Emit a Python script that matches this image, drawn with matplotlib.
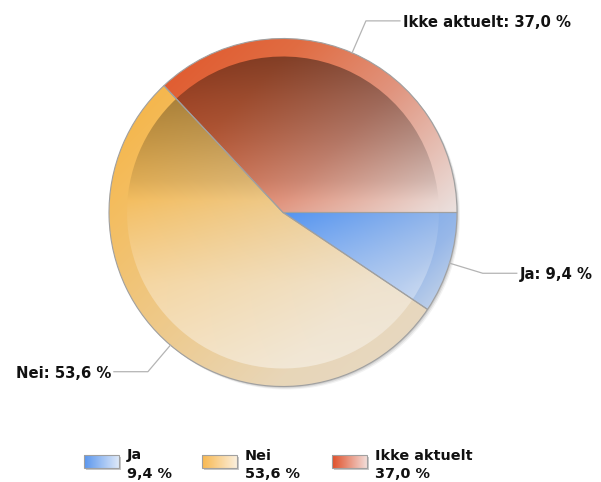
import matplotlib.pyplot as plt
import numpy as np
from matplotlib.patches import Circle, Rectangle
from matplotlib.colors import to_rgb

labels = ['Ja', 'Nei', 'Ikke aktuelt']
values = [9.4, 53.6, 37.0]

# colour ramps for each slice (position along the slice, colour)
rim_stops = [
    [(0.0, '#4a8ef0'), (0.7, '#98b8e8'), (1.0, '#d0dbea')],
    [(0.0, '#f6b240'), (0.2, '#f4bd5e'), (0.75, '#e8d6b8'), (1.0, '#e6d9c6')],
    [(0.0, '#e0562a'), (0.3, '#e06c42'), (0.6, '#e0947e'), (1.0, '#ebe2e0')],
]
swatch_colors = [('#5a96ee', '#dde8f8'), ('#f8b850', '#fbefdc'), ('#e0502a', '#f2dcd8')]


def pct(v):
    return f"{v:.1f}".replace('.', ',') + " %"


W, H = 601, 482
cx, cy = 283, 212.5      # pie centre, pixel coords (y down)
R, R_in = 174, 156


def sy(y):
    return H - y


fig = plt.figure(figsize=(W / 100, H / 100), dpi=100)
ax = fig.add_axes([0, 0, 1, 1])

# soft drop shadow
for off, a in [(1, 0.10), (2, 0.08), (3, 0.05)]:
    ax.add_patch(Circle((cx + off, sy(cy + off)), R, facecolor='black',
                        edgecolor='none', alpha=a, zorder=-2))

wedges, _ = ax.pie(values, radius=R, center=(cx, sy(cy)), startangle=0,
                   counterclock=False,
                   wedgeprops=dict(facecolor='none', edgecolor='#a0a0a0',
                                   linewidth=0.8))
inner, _ = ax.pie(values, radius=R_in, center=(cx, sy(cy)), startangle=0,
                  counterclock=False,
                  wedgeprops=dict(facecolor='none', edgecolor='none'))

xs = np.arange(cx - R, cx + R, 1.0) + 0.5
ys = np.arange(cy - R, cy + R, 1.0) + 0.5
X, Y = np.meshgrid(xs, ys)
ext = (cx - R, cx + R, sy(cy + R), sy(cy - R))

ang = np.deg2rad(45)
dx, dy = np.cos(ang), np.sin(ang)


def ramp(t, stops):
    pos = [p for p, _ in stops]
    cols = np.array([to_rgb(c) for _, c in stops])
    return np.stack([np.interp(t, pos, cols[:, k]) for k in range(3)], axis=-1)


def wedge_box(th1, th2):
    angs = [th1, th2] + [a for a in range(-360, 721, 90) if th1 < a < th2]
    px = [cx] + [cx + R * np.cos(np.deg2rad(a)) for a in angs]
    py = [cy] + [cy - R * np.sin(np.deg2rad(a)) for a in angs]
    return min(px), max(px), min(py), max(py)


# glass shading on the inner disc: darker at the top, lighter at the bottom
s = (Y - (cy - R_in)) / (2 * R_in)
shade = np.interp(s, [0, .125, .27, .4, .5, .73, 1],
                  [-.42, -.31, -.2, -.09, .05, .3, .42])[..., None]

for w_out, w_in, stops in zip(wedges, inner, rim_stops):
    x0, x1, y0, y1 = wedge_box(w_out.theta1, w_out.theta2)
    t = ((X - x0) * dx + (Y - y0) * dy) / ((x1 - x0) * dx + (y1 - y0) * dy)
    base = ramp(np.clip(t, 0, 1), stops)
    im = ax.imshow(base, extent=ext, origin='upper', interpolation='bilinear',
                   zorder=0)
    im.set_clip_path(w_out)
    glass = np.where(shade < 0, base * (1 + shade), base + (1 - base) * shade)
    im2 = ax.imshow(np.clip(glass, 0, 1), extent=ext, origin='upper',
                    interpolation='bilinear', zorder=0.5)
    im2.set_clip_path(w_in)

# leader lines and labels
for w, lab, v in zip(wedges, labels, values):
    mid = np.deg2rad((w.theta1 + w.theta2) / 2)
    px, py = cx + R * np.cos(mid), cy - R * np.sin(mid)
    ex, ey = cx + 1.2 * R * np.cos(mid), cy - 1.2 * R * np.sin(mid)
    side = 1 if np.cos(mid) > 0 else -1
    hx = ex + side * 34
    ax.plot([px, ex, hx], [sy(py), sy(ey), sy(ey)], color='#b4b4b4',
            lw=0.9, zorder=6)
    ax.text(hx + side * 3, sy(ey), f"{lab}: {pct(v)}",
            ha='left' if side > 0 else 'right', va='center_baseline',
            fontsize=10.7, fontweight='bold', color='#111111')

# legend
sw_x = [84, 202, 332]
sw_w, sw_h, sw_top = 35, 13, 455
for x0, lab, v, (c0, c1) in zip(sw_x, labels, values, swatch_colors):
    ax.add_patch(Rectangle((x0 + 2, sy(sw_top + sw_h + 2)), sw_w, sw_h,
                           facecolor='#c8c8c8', edgecolor='none', zorder=1))
    g = ramp(np.linspace(0, 1, 64)[None, :], [(0, c0), (1, c1)])
    ax.imshow(g, extent=(x0, x0 + sw_w, sy(sw_top + sw_h), sy(sw_top)),
              origin='upper', interpolation='bilinear', zorder=2)
    ax.add_patch(Rectangle((x0, sy(sw_top + sw_h)), sw_w, sw_h,
                           facecolor='none', edgecolor='#a0a0a0', lw=0.8,
                           zorder=3))
    ax.text(x0 + 43, sy(454), lab, ha='left', va='center_baseline',
            fontsize=10.4, fontweight='bold', color='#111111')
    ax.text(x0 + 43, sy(472), pct(v), ha='left', va='center_baseline',
            fontsize=10.4, fontweight='bold', color='#111111')

ax.set_xlim(0, W)
ax.set_ylim(0, H)
ax.set_aspect('auto')
ax.set_axis_off()

fig.savefig('out.png', dpi=100, facecolor='white')
